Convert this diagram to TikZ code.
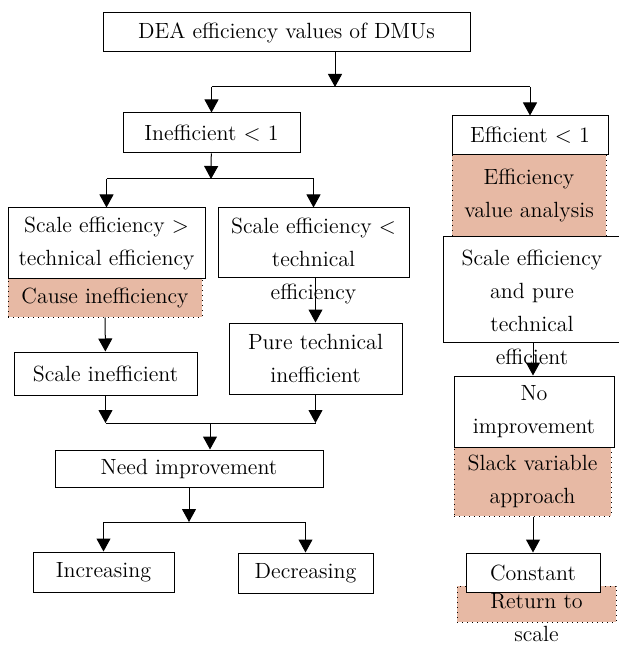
\documentclass[tikz,border=0pt]{standalone}
\usetikzlibrary{arrows.meta}
\definecolor{salmon}{RGB}{231,185,164}
\begin{document}
\begin{tikzpicture}[x=0.5pt, y=-0.5pt, line width=0.5pt,
    >={Triangle[width=7pt,length=6.5pt]},
    wh/.style 2 args = {minimum width=#1*0.5pt, minimum height=#2*0.5pt},
    txt/.style = {inner sep=0pt, align=center, font=\fontsize{11}{16.5}\selectfont},
    main/.style = {txt, draw, fill=white},
    note/.style = {txt, draw, dotted, fill=salmon}]
    \useasboundingbox (0,0) rectangle (619,646);
    % shaded notes first
    \node[note, wh={154}{82}] (effval) at (529,196) {Efficiency\\value analysis};
    \node[note, wh={194}{39}] (cause) at (105,297.5) {Cause inefficiency};
    \node[note, wh={157}{69}] (slack) at (532.5,481.5) {Slack variable\\approach};
    \node[note, wh={159}{36}] (ret) at (536.5,604) {};
    \node[txt] (rettxt) at (536.5,618) {Return to\\scale};
    % boxes
    \node[main, wh={367}{39}] (top) at (286.5,32.5) {DEA efficiency values of DMUs};
    \node[main, wh={177}{40}] (ineff) at (211.5,133) {Inefficient $<$ 1};
    \node[main, wh={156}{39}] (eff) at (530,135.5) {Efficient $<$ 1};
    \node[main, wh={197}{70}] (se1) at (106.5,243) {Scale efficiency $>$\\technical efficiency};
    \node[main, wh={191}{69}] (se2) at (313.5,242.5) {};
    \node[txt] (se2txt) at (313.5,261) {Scale efficiency $<$\\technical\\efficiency};
    \node[main, wh={178}{105}] (sepure) at (532,289.5) {};
    \node[txt] (sepuretxt) at (532,307.5) {Scale efficiency\\and pure\\technical\\efficient};
    \node[main, wh={183}{43}] (scaleineff) at (105.5,373.5) {Scale inefficient};
    \node[main, wh={173}{71}] (pureineff) at (315.5,358.5) {Pure technical\\inefficient};
    \node[main, wh={160}{71}] (noimp) at (534,411.5) {No\\improvement};
    \node[main, wh={268}{37}] (need) at (189,468.5) {Need improvement};
    \node[main, wh={134}{39}] (const) at (533,572.5) {Constant};
    \node[main, wh={141}{40}] (inc) at (103.5,572) {Increasing};
    \node[main, wh={135}{40}] (dec) at (305.5,573) {Decreasing};
    % junctions
    \coordinate (j1) at (335,87);
    \coordinate (j2) at (211,179);
    \coordinate (j3) at (210,423);
    \coordinate (j4) at (189,522);
    % connectors
    \draw[->] (top.south -| j1) -- (j1);
    \draw (j1 -| ineff) -- (j1 -| eff);
    \draw[->] (j1 -| ineff) -- (ineff);
    \draw[->] (j1 -| eff) -- (eff);
    \draw[->] (ineff) -- (j2);
    \draw (j2 -| se1) -- (j2 -| se2);
    \draw[->] (j2 -| se1) -- (se1);
    \draw[->] (j2 -| se2) -- (se2);
    \draw[->] (cause) -- (scaleineff);
    \draw[->] (se2.south -| pureineff) -- (pureineff);
    \draw[->] (scaleineff) -- (j3 -| scaleineff);
    \draw[->] (pureineff) -- (j3 -| pureineff);
    \draw (j3 -| scaleineff) -- (j3 -| pureineff);
    \draw[->] (j3) -- (j3 |- need.north);
    \draw[->] (need) -- (j4);
    \draw (j4 -| inc) -- (j4 -| dec);
    \draw[->] (j4 -| inc) -- (inc);
    \draw[->] (j4 -| dec) -- (dec);
    \draw[->] (sepure.south -| const) -- (noimp.north -| const);
    \draw[->] (slack.south -| const) -- (const);
\end{tikzpicture}
\end{document}
